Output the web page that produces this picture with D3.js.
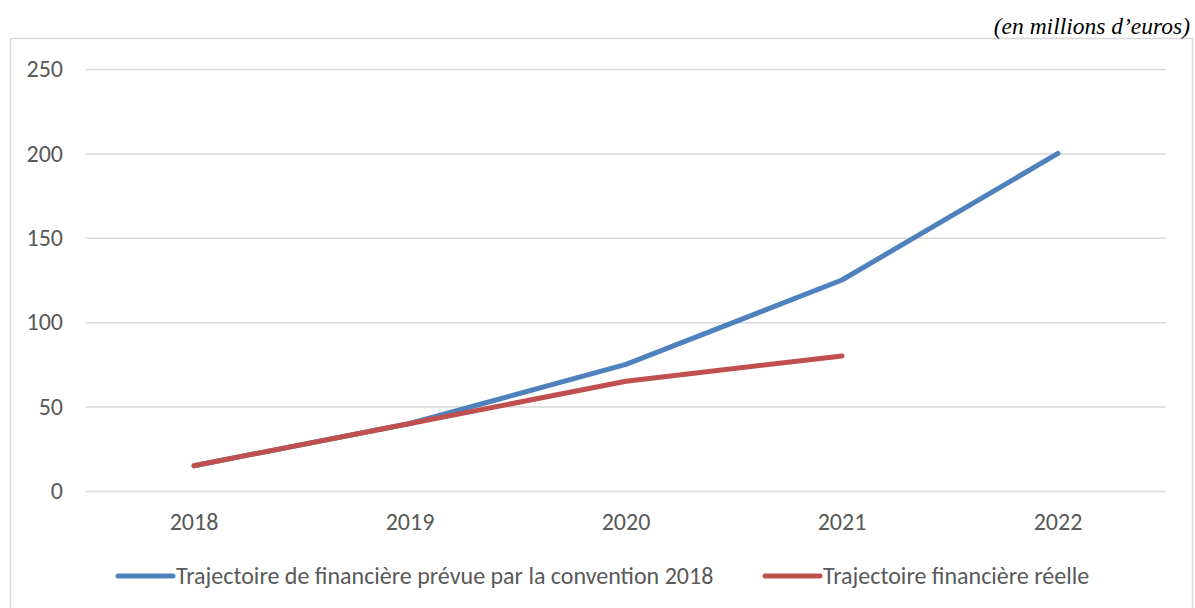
<!DOCTYPE html>
<html>
<head>
<meta charset="utf-8">
<script src="https://cdn.jsdelivr.net/npm/d3@7"></script>
<style>
  body { margin: 0; background: #fff; }
  svg { display: block; }
  .tick text { font-family: Carlito, Calibri, Lato, sans-serif; fill: #595959; }
</style>
</head>
<body>
<div id="chart"></div>
<script>
// years on the x axis
var years = ["2018", "2019", "2020", "2021", "2022"];
// planned trajectory (convention 2018)
var prevue = [15, 40, 75, 125, 200];
// actual trajectory
var reelle = [15, 40, 65, 80];
var yTicks = [0, 50, 100, 150, 200, 250];
var seriesNames = ["Trajectoire de financière prévue par la convention 2018", "Trajectoire financière réelle"];
var seriesColors = ["#4f81bd", "#c0504d"];

var W = 1195, H = 608;
var margin = {top: 69, right: 29, bottom: 117, left: 86},
    width = W - margin.left - margin.right,
    height = H - margin.top - margin.bottom;
var fs = "24px";

var svg = d3.select("#chart").append("svg")
    .attr("width", W)
    .attr("height", H);

// outer chart frame
svg.append("rect")
    .attr("x", 10.5).attr("y", 38.5)
    .attr("width", 1182).attr("height", 600)
    .attr("fill", "none")
    .attr("stroke", "#d9d9d9")
    .attr("stroke-width", 1.5);

svg.append("text")
    .attr("x", 1190).attr("y", 34)
    .attr("text-anchor", "end")
    .style("font-family", "'Liberation Serif', 'Times New Roman', serif")
    .style("font-style", "italic")
    .style("font-size", "23.5px")
    .attr("fill", "#000")
    .text("(en millions d\u2019euros)");

var g = svg.append("g")
    .attr("transform", "translate(" + margin.left + "," + margin.top + ")");

var x = d3.scaleBand().domain(years).range([0, width]);
var y = d3.scaleLinear().domain([0, 250]).range([height, 0]);

// gridlines + y labels
var yAxis = g.append("g")
    .call(d3.axisLeft(y).tickValues(yTicks).tickSize(-width).tickPadding(23));
yAxis.select(".domain").remove();
yAxis.selectAll(".tick line").attr("stroke", "#d9d9d9").attr("stroke-width", 1.5);
yAxis.selectAll(".tick text").style("font-size", fs);

var xAxis = g.append("g")
    .attr("transform", "translate(0," + height + ")")
    .call(d3.axisBottom(x).tickSize(0).tickPadding(22));
xAxis.select(".domain").remove();
xAxis.selectAll(".tick text").style("font-size", fs);

var line = d3.line()
    .x(function(d, i) { return x(years[i]) + x.bandwidth() / 2; })
    .y(function(d) { return y(d); });

[prevue, reelle].forEach(function(s, i) {
    g.append("path")
        .datum(s)
        .attr("fill", "none")
        .attr("stroke", seriesColors[i])
        .attr("stroke-width", 5)
        .attr("stroke-linecap", "round")
        .attr("stroke-linejoin", "round")
        .attr("d", line);
});

// legend
var legendX = [118, 765];
seriesNames.forEach(function(name, i) {
    var lg = svg.append("g").attr("transform", "translate(" + legendX[i] + ",576)");
    lg.append("line")
        .attr("x1", 0).attr("x2", 55)
        .attr("stroke", seriesColors[i])
        .attr("stroke-width", 5)
        .attr("stroke-linecap", "round");
    lg.append("text")
        .attr("x", 58).attr("y", 8)
        .style("font-family", "Carlito, Calibri, Lato, sans-serif")
        .style("font-size", fs)
        .attr("fill", "#595959")
        .text(name);
});
</script>
</body>
</html>
